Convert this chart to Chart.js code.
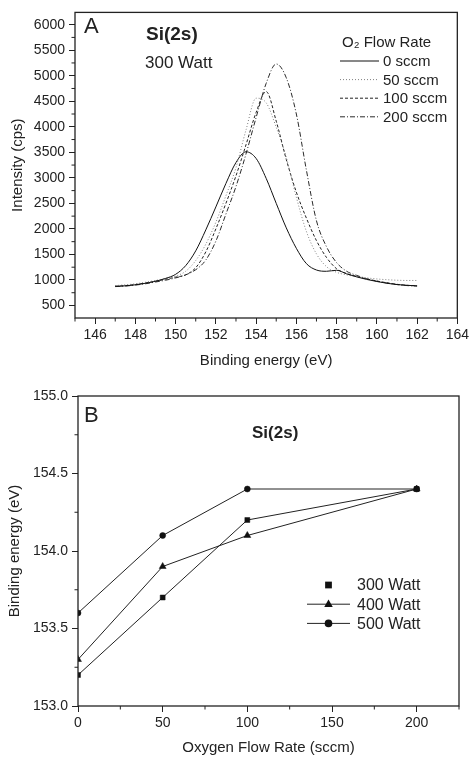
<!DOCTYPE html>
<html><head><meta charset="utf-8">
<script src="https://cdn.jsdelivr.net/npm/chart.js@4"></script>
<style>
html,body{margin:0;padding:0;background:#fff;}
#wrap{position:relative;width:472px;height:761px;overflow:hidden;}
.box{position:absolute;left:0;width:472px;}
</style></head><body>
<div id="wrap">
<div class="box" style="top:0;height:380px"><canvas id="cA"></canvas></div>
<div class="box" style="top:380px;height:381px"><canvas id="cB"></canvas></div>
</div>
<script>
// ---------- Panel A data: Si(2s) spectra, 300 Watt ----------
const energy = [147,147.5,148,148.5,149,149.5,150,150.5,151,151.5,152,152.5,153,153.5,154,154.5,155,155.5,156,156.5,157,157.5,158,158.5,159,159.5,160,160.5,161,161.5,162];
const flow0   = [875,885,905,935,975,1030,1110,1280,1570,1980,2430,2890,3300,3510,3380,2990,2500,2020,1620,1320,1195,1170,1190,1120,1060,1010,970,935,910,895,885];
const flow50  = [890,905,925,955,990,1030,1075,1170,1380,1700,2130,2650,3200,3940,4560,4470,3990,3400,2620,1950,1510,1260,1150,1100,1065,1040,1020,1005,995,990,990];
const flow100 = [875,890,910,940,975,1015,1055,1100,1240,1550,2000,2500,3040,3650,4280,4690,4110,3360,2720,2210,1770,1440,1220,1125,1070,1020,980,945,915,895,885];
const flow200 = [870,880,900,925,960,995,1040,1100,1200,1390,1760,2290,2830,3470,4180,4850,5230,4960,4250,3150,2160,1650,1340,1170,1090,1025,975,940,910,890,880];
const seriesNamesA = ['0 sccm','50 sccm','100 sccm','200 sccm'];
const xTicksA = [146,148,150,152,154,156,158,160,162,164];
const yTicksA = [500,1000,1500,2000,2500,3000,3500,4000,4500,5000,5500,6000];

// ---------- Panel B data: binding energy vs O2 flow ----------
const flowRates = [0,50,100,200];
const be300 = [153.2,153.7,154.2,154.4];
const be400 = [153.3,153.9,154.1,154.4];
const be500 = [153.6,154.1,154.4,154.4];
const seriesNamesB = ['300 Watt','400 Watt','500 Watt'];
const xTicksB = [0,50,100,150,200];
const yTicksB = [153.0,153.5,154.0,154.5,155.0];

const FONT = '"Liberation Sans", Arial, Helvetica, sans-serif';
const INK = '#222';

const pts = (xs, ys) => xs.map((x, i) => ({x, y: ys[i]}));

// frame + minor ticks, using the chart's own scales
const frameTicks = {
  id: 'frameTicks',
  afterDraw(chart, args, opts) {
    const {ctx, chartArea: a} = chart;
    ctx.save();
    ctx.strokeStyle = INK;
    ctx.lineWidth = 1.3;
    ctx.strokeRect(a.left, a.top, a.right - a.left, a.bottom - a.top);
    ctx.lineWidth = 1;
    ['x','y'].forEach(id => {
      const s = chart.scales[id];
      const vals = s.ticks.map(t => t.value);
      const step = vals[1] - vals[0];
      for (let v = vals[0] - step / 2; v <= s.max + 1e-9; v += step) {
        if (v < s.min - 1e-9) continue;
        const p = s.getPixelForValue(v);
        ctx.beginPath();
        if (id === 'x') { ctx.moveTo(p, a.bottom); ctx.lineTo(p, a.bottom + opts.minorLen); }
        else { ctx.moveTo(a.left, p); ctx.lineTo(a.left - opts.minorLen, p); }
        ctx.stroke();
      }
    });
    ctx.restore();
  }
};

// free text annotations
const notes = {
  id: 'notes',
  afterDraw(chart, args, opts) {
    const {ctx} = chart;
    ctx.save();
    ctx.fillStyle = INK;
    ctx.textBaseline = 'alphabetic';
    (opts.items || []).forEach(t => {
      ctx.font = t.font;
      ctx.textAlign = t.align || 'left';
      ctx.fillText(t.text, t.x, t.y);
    });
    ctx.restore();
  }
};

// line legend (panel A)
const lineLegend = {
  id: 'lineLegend',
  afterDraw(chart, args, o) {
    if (!o.enabled) return;
    const {ctx} = chart;
    ctx.save();
    ctx.fillStyle = INK;
    ctx.font = o.font;
    ctx.textBaseline = 'alphabetic';
    ctx.fillText(o.title, o.titleX, o.titleY);
    ctx.textBaseline = 'middle';
    chart.data.datasets.forEach((ds, i) => {
      const y = o.y0 + i * o.dy;
      ctx.strokeStyle = ds.borderColor;
      ctx.lineWidth = ds.borderWidth;
      ctx.setLineDash(ds.borderDash || []);
      ctx.beginPath(); ctx.moveTo(o.x0, y); ctx.lineTo(o.x1, y); ctx.stroke();
      ctx.setLineDash([]);
      ctx.fillText(ds.label, o.tx, y + 1);
    });
    ctx.restore();
  }
};

// symbol legend (panel B)
const symLegend = {
  id: 'symLegend',
  afterDraw(chart, args, o) {
    if (!o.enabled) return;
    const {ctx} = chart;
    ctx.save();
    ctx.font = o.font;
    ctx.textBaseline = 'middle';
    chart.data.datasets.forEach((ds, i) => {
      const y = o.y0 + i * o.dy;
      const cx = (o.x0 + o.x1) / 2;
      ctx.strokeStyle = ds.borderColor;
      ctx.fillStyle = ds.pointBackgroundColor;
      ctx.lineWidth = 1;
      if (ds.legendLine !== false) {
        ctx.beginPath(); ctx.moveTo(o.x0, y); ctx.lineTo(o.x1, y); ctx.stroke();
      }
      const r = o.symR;
      ctx.beginPath();
      if (ds.pointStyle === 'rect') {
        ctx.rect(cx - r * 0.75, y - r * 0.75, r * 1.5, r * 1.5);
      } else if (ds.pointStyle === 'triangle') {
        ctx.moveTo(cx, y - r * 1.05); ctx.lineTo(cx + r * 0.95, y + r * 0.6); ctx.lineTo(cx - r * 0.95, y + r * 0.6); ctx.closePath();
      } else {
        ctx.arc(cx, y, r * 0.85, 0, Math.PI * 2);
      }
      ctx.fill();
      ctx.fillStyle = INK;
      ctx.fillText(ds.label, o.tx, y + 1);
    });
    ctx.restore();
  }
};

Chart.register(frameTicks, notes, lineLegend, symLegend);

const tickFont = {family: FONT, size: 14};
const titleFont = {family: FONT, size: 15};

// ---------- Chart A ----------
const styleA = [
  {borderColor: '#111111', borderDash: []},
  {borderColor: '#808080', borderDash: [1, 2]},
  {borderColor: '#222222', borderDash: [3, 2]},
  {borderColor: '#2a2a2a', borderDash: [5, 2, 1, 2]}
];
const seriesA = [flow0, flow50, flow100, flow200];

new Chart(document.getElementById('cA'), {
  type: 'line',
  data: {
    datasets: seriesA.map((ys, i) => ({
      label: seriesNamesA[i],
      data: pts(energy, ys),
      borderColor: styleA[i].borderColor,
      borderDash: styleA[i].borderDash,
      borderWidth: 1,
      pointRadius: 0,
      fill: false,
      cubicInterpolationMode: 'monotone'
    }))
  },
  options: {
    responsive: true, maintainAspectRatio: false, animation: false,
    layout: {padding: {top: 6, right: 13, left: 0, bottom: 0}},
    plugins: {
      legend: {display: false}, tooltip: {enabled: false},
      frameTicks: {minorLen: 3.5},
      notes: {items: [
        {text: 'A', x: 84, y: 33, font: '22px ' + FONT},
        {text: 'Si(2s)', x: 146, y: 40, font: 'bold 19px ' + FONT},
        {text: '300 Watt', x: 145, y: 68, font: '17px ' + FONT}
      ]},
      lineLegend: {enabled: true, font: '15px ' + FONT, title: 'O\u2082 Flow Rate',
        titleX: 342, titleY: 46.5, x0: 340, x1: 379, tx: 383, y0: 61, dy: 18.6},
      symLegend: {enabled: false}
    },
    scales: {
      x: {
        type: 'linear', min: 145, max: 164,
        afterFit: s => { s.height = 62; },
        afterBuildTicks: s => { s.ticks = xTicksA.map(v => ({value: v})); },
        grid: {drawOnChartArea: false, tickLength: 6, tickColor: INK},
        border: {display: false},
        ticks: {font: tickFont, color: INK, padding: 3, maxRotation: 0, callback: v => String(v)},
        title: {display: true, text: 'Binding energy (eV)', font: titleFont, color: INK, padding: {top: 0, bottom: 10}}
      },
      y: {
        type: 'linear', min: 255, max: 6240,
        afterFit: s => { s.width = 75; },
        afterBuildTicks: s => { s.ticks = yTicksA.map(v => ({value: v})); },
        grid: {drawOnChartArea: false, tickLength: 6, tickColor: INK},
        border: {display: false},
        ticks: {font: tickFont, color: INK, padding: 4, callback: v => String(v)},
        title: {display: true, text: 'Intensity (cps)', font: titleFont, color: INK, padding: {top: 9, bottom: 0}}
      }
    }
  }
});

// ---------- Chart B ----------
const seriesB = [be300, be400, be500];
const stylesB = ['rect', 'triangle', 'circle'];
const radiiB = [3.5, 4, 3];
const orderB = [1, 0, 2];

new Chart(document.getElementById('cB'), {
  type: 'line',
  data: {
    datasets: seriesB.map((ys, i) => ({
      label: seriesNamesB[i],
      data: pts(flowRates, ys),
      borderColor: INK,
      borderWidth: 1,
      pointStyle: stylesB[i],
      pointRadius: radiiB[i],
      pointBackgroundColor: '#111',
      pointBorderColor: '#111',
      pointBorderWidth: 0.5,
      tension: 0,
      order: orderB[i],
      legendLine: i !== 0
    }))
  },
  options: {
    responsive: true, maintainAspectRatio: false, animation: false,
    layout: {padding: {top: 16, right: 13, left: 0, bottom: 0}},
    plugins: {
      legend: {display: false}, tooltip: {enabled: false},
      frameTicks: {minorLen: 3.5},
      notes: {items: [
        {text: 'B', x: 84, y: 41.7, font: '22px ' + FONT},
        {text: 'Si(2s)', x: 252, y: 58.3, font: 'bold 17px ' + FONT}
      ]},
      lineLegend: {enabled: false},
      symLegend: {enabled: true, font: '16px ' + FONT, x0: 307, x1: 350, tx: 357, y0: 205, dy: 19.2, symR: 4.5}
    },
    scales: {
      x: {
        type: 'linear', min: 0, max: 225,
        afterFit: s => { s.height = 55; },
        afterBuildTicks: s => { s.ticks = xTicksB.map(v => ({value: v})); },
        grid: {drawOnChartArea: false, tickLength: 6, tickColor: INK},
        border: {display: false},
        ticks: {font: tickFont, color: INK, padding: 3, maxRotation: 0, callback: v => String(v)},
        title: {display: true, text: 'Oxygen Flow Rate (sccm)', font: titleFont, color: INK, padding: {top: 0, bottom: 4}}
      },
      y: {
        type: 'linear', min: 153.0, max: 155.0,
        afterFit: s => { s.width = 78; },
        afterBuildTicks: s => { s.ticks = yTicksB.map(v => ({value: v})); },
        grid: {drawOnChartArea: false, tickLength: 6, tickColor: INK},
        border: {display: false},
        ticks: {font: tickFont, color: INK, padding: 4, callback: v => Number(v).toFixed(1)},
        title: {display: true, text: 'Binding energy (eV)', font: titleFont, color: INK, padding: {top: 6, bottom: 0}}
      }
    }
  }
});
</script>
</body></html>
